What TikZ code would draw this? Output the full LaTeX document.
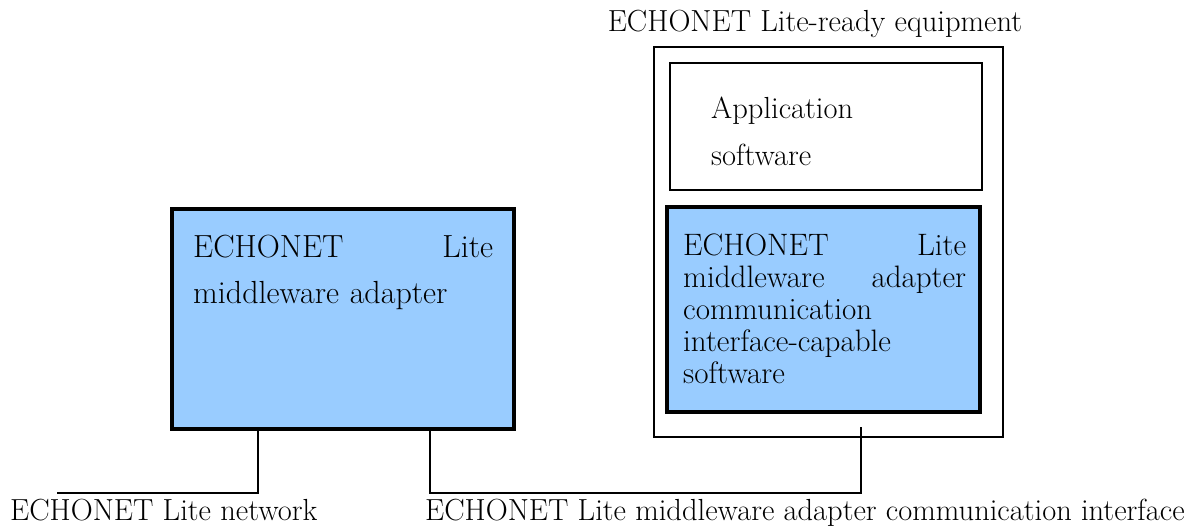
\documentclass[tikz,border=0pt]{standalone}
\usepackage{fontspec}
\usetikzlibrary{positioning}
\definecolor{adapterblue}{HTML}{99CCFF}
\tikzset{
  adapter/.style={draw, line width=4pt, fill=adapterblue, inner sep=0pt},
  plainbox/.style={draw, line width=1.8pt, inner sep=0pt},
  txt/.style={inner sep=0pt, align=left},
  wire/.style={line width=1.5pt}
}
\begin{document}
\begin{tikzpicture}[x=1pt,y=-1pt,font=\fontsize{30.5}{32}\selectfont]
        \useasboundingbox (0,0) rectangle (1196,527);
        % Boxes
        \node[adapter, minimum width=342pt, minimum height=220pt] (mwa) at (343,319) {};
        \node[plainbox, minimum width=349pt, minimum height=390pt] (equip) at (828.5,242) {};
        \node[plainbox, minimum width=312pt, minimum height=127pt] (app) at (826,126.5) {};
        \node[adapter, minimum width=313pt, minimum height=205pt] (mwsw) at (823.5,309.5) {};
        % Texts
        \node[txt, anchor=base west, text width=300pt, font=\fontsize{32}{46}\selectfont] (mwatext) at (193,257) {ECHONET\hfill Lite\\ middleware adapter};
        \node[txt, anchor=base west, text width=283pt, font=\fontsize{31}{32}\selectfont] (mwswtext) at (683,255) {ECHONET\hfill Lite\\ middleware\hfill adapter\\ communication\\ interface-capable\\ software};
        \node[txt, anchor=base west, text width=250pt, font=\fontsize{30.5}{47}\selectfont] (apptext) at (711,118) {Application\\ software};
        \node[txt, anchor=base] (equiptitle) at (815,32) {ECHONET Lite-ready equipment};
        \node[txt, anchor=base west] (nettext) at (10,520) {ECHONET Lite network};
        \node[txt, anchor=base west] (iftext) at (425,520) {ECHONET Lite middleware adapter communication interface};
        % Lines
        \coordinate (netend) at (57,493);
        \coordinate (netknee) at (258,493);
        \coordinate (ifkneeleft) at (430,493);
        \coordinate (ifkneeright) at (861,493);
        \coordinate (ifend) at (861,427);
        \draw[wire] (netknee |- mwa.south) -- (netknee) -- (netend);
        \draw[wire] (ifkneeleft |- mwa.south) -- (ifkneeleft) -- (ifkneeright) -- (ifend);
      \end{tikzpicture}
\end{document}
